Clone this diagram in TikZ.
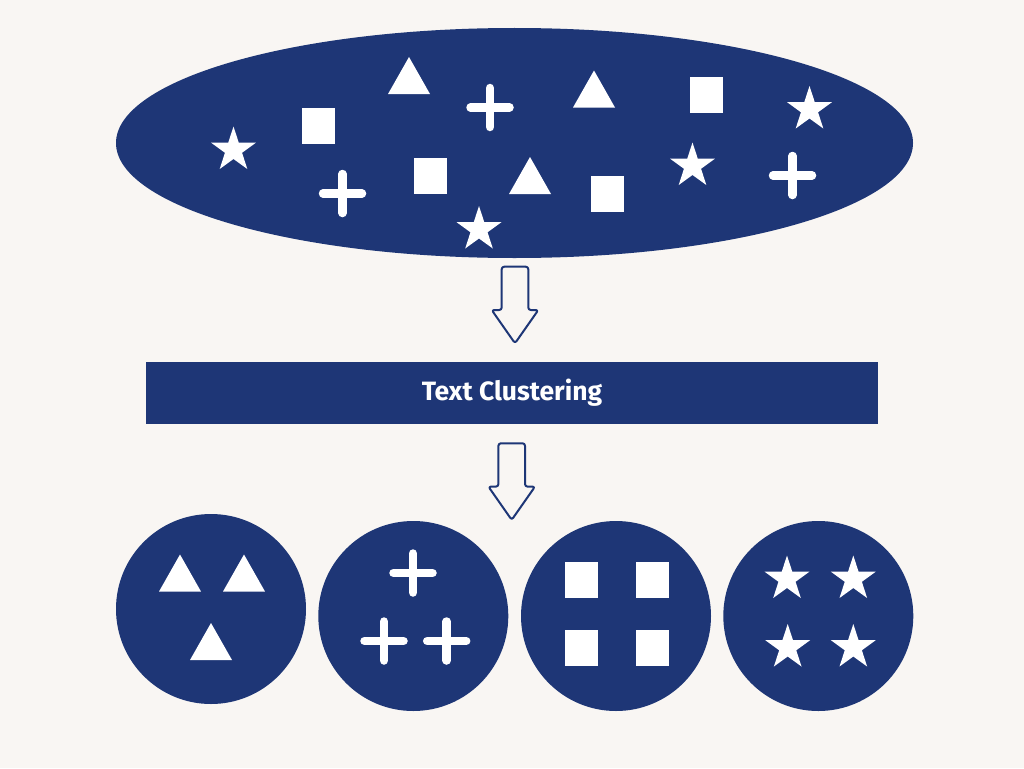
\documentclass[tikz,border=0pt]{standalone}
\usepackage{fontspec}
\setmainfont{Fira Sans}
\usetikzlibrary{shapes.geometric}
\definecolor{navy}{RGB}{30,54,118}
\definecolor{bg}{RGB}{249,246,243}
\tikzset{
  blob/.style={fill=navy, draw=none, inner sep=0pt},
  trianglepic/.pic={\fill[white] (0,-18.5) -- (21,18.5) -- (-21,18.5) -- cycle;},
  squarepic/.pic={\fill[white] (-16.5,-18) rectangle (16.5,18);},
  pluspic/.pic={\draw[white, line width=8.5pt, line cap=round] (-19.5,0) -- (19.5,0) (0,-19.5) -- (0,19.5);},
  starpic/.pic={\fill[white] (270:23.5) \foreach \i in {1,...,9}{ -- ({270+36*\i}:{ifthenelse(mod(\i,2)==0,23.5,9)}) } -- cycle;},
  blockarrow/.pic={\draw[navy, line width=2pt, rounded corners=2.5pt, line join=round]
     (-13.3,0) -- (13.3,0) -- (13.3,43.3) -- (23.3,43.3) -- (0,76.6) -- (-23.3,43.3) -- (-13.3,43.3) -- cycle;}
}
\begin{document}
\begin{tikzpicture}[x=1pt, y=-1pt]
\fill[bg] (0,0) rectangle (1024,768);
\useasboundingbox (0,0) rectangle (1024,768);

% top ellipse
\node[blob, ellipse, minimum width=797pt, minimum height=230pt] (pool) at (514.5,143) {};
\pic at (409,75.5) {trianglepic};
\pic at (594,89) {trianglepic};
\pic at (530,175.5) {trianglepic};
\pic at (490,107.5) {pluspic};
\pic at (342.5,193.5) {pluspic};
\pic at (792.5,175.5) {pluspic};
\pic at (706.5,95) {squarepic};
\pic at (318,126) {squarepic};
\pic at (430,175.5) {squarepic};
\pic at (607.5,194) {squarepic};
\pic at (809.5,109.5) {starpic};
\pic at (233.5,150) {starpic};
\pic at (692.5,166) {starpic};
\pic at (479,229.5) {starpic};

% arrow 1
\pic at (515,266.7) {blockarrow};

% middle bar
\node[blob, rectangle, minimum width=732pt, minimum height=62.5pt] (bar) at (512,393)
  {\color{white}\fontsize{26.5}{30}\selectfont\bfseries Text Clustering};

% arrow 2
\pic at (511.7,443.3) {blockarrow};

% clusters
\node[blob, circle, minimum size=190pt] (c1) at (211,609) {};
\node[blob, circle, minimum size=190pt] (c2) at (413.3,616) {};
\node[blob, circle, minimum size=190pt] (c3) at (616,616) {};
\node[blob, circle, minimum size=190pt] (c4) at (818.3,616) {};

\pic at (180,573) {trianglepic};
\pic at (244,573) {trianglepic};
\pic at (211,641.5) {trianglepic};

\pic at (413,573) {pluspic};
\pic at (384,641) {pluspic};
\pic at (446.7,641) {pluspic};

\pic at (581.5,579.5) {squarepic};
\pic at (652.5,579.5) {squarepic};
\pic at (581.5,648) {squarepic};
\pic at (652.5,648) {squarepic};

\pic at (787,579) {starpic};
\pic at (853.3,579) {starpic};
\pic at (787.7,647.5) {starpic};
\pic at (853.3,647.5) {starpic};
\end{tikzpicture}
\end{document}
